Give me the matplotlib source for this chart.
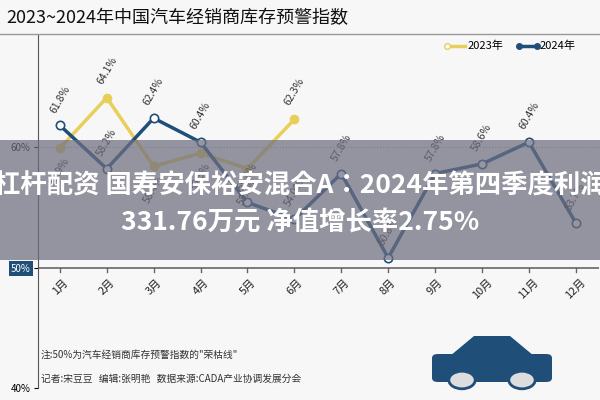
import matplotlib
matplotlib.use("Agg")
import matplotlib.pyplot as plt
import matplotlib.patches as patches
from matplotlib import font_manager

names = {f.name for f in font_manager.fontManager.ttflist}
cjk = [n for n in ["Noto Sans CJK SC", "Noto Sans CJK JP", "Noto Sans CJK TC"] if n in names]
plt.rcParams["font.family"] = "sans-serif"
plt.rcParams["font.sans-serif"] = cjk + ["DejaVu Sans"]

# 数据
months = ["1月", "2月", "3月", "4月", "5月", "6月", "7月", "8月", "9月", "10月", "11月", "12月"]
idx_2023 = [59.9, 64.1, 58.4, 59.5, 58.2, 62.3]
idx_2024 = [61.8, 58.2, 62.4, 60.4, 55.4, 54.0, 57.8, 50.8, 57.8, 58.6, 60.4, 53.7]
y_ticks = [40, 50, 60]
y_tick_labels = ["40%", "50%", "60%"]

YELLOW = "#e8cf5a"
BLUE = "#1f4e79"

fig = plt.figure(figsize=(6, 4), dpi=100)
fig.patch.set_facecolor("#f7f7f7")
ax = fig.add_axes([0.063, 0.03, 0.935, 0.8825])
ax.set_facecolor("#f7f7f7")

x23 = list(range(1, len(idx_2023) + 1))
x24 = list(range(1, len(idx_2024) + 1))
ax.plot(x23, idx_2023, color=YELLOW, lw=2.5, marker="o", ms=6,
        mfc=YELLOW, mec=YELLOW, zorder=3)
ax.plot(x24, idx_2024, color=BLUE, lw=2.5, marker="o", ms=6,
        mfc="white", mec=BLUE, mew=1.2, zorder=4)

for x, v in zip(x23, idx_2023):
    off = 1.0 if v >= 60 else -3.2
    ax.text(x, v + off, f"{v}%", rotation=60, ha="center", va="bottom",
            fontsize=7.5, color="#333333", zorder=5)
for x, v in zip(x24, idx_2024):
    ax.text(x, v + 0.9, f"{v}%", rotation=60, ha="center", va="bottom",
            fontsize=7.5, color="#333333", zorder=5)

ax.set_xlim(0.53, 12.49)
ax.set_ylim(40, 69.3)
ax.set_xticks([])
ax.set_yticks(y_ticks)
ax.set_yticklabels(y_tick_labels, fontsize=7)
ax.tick_params(axis="y", length=3, pad=2)
for s in ["top", "right", "bottom"]:
    ax.spines[s].set_visible(False)
ax.spines["left"].set_color("#555555")

# 50% 荣枯线 & 网格
ax.axhline(50, color="#666666", lw=1.2, zorder=2)
ax.axhline(60, color="#aaaaaa", lw=0.8, ls=":", zorder=1)
ax.axhline(40, color="#aaaaaa", lw=0.8, ls=":", zorder=1)
for x, m in zip(x24, months):
    ax.plot([x, x], [50, 49.6], color="#666666", lw=1, zorder=2)
    ax.text(x, 49.2, m, rotation=45, ha="center", va="top", fontsize=8, color="#222222")
ax.get_yticklabels()[1].set_bbox(dict(facecolor=BLUE, edgecolor="none", pad=1.5))
ax.get_yticklabels()[1].set_color("white")

# 标题
fig.text(0.01, 0.955, "2023~2024年中国汽车经销商库存预警指数", fontsize=13, va="center", color="#111111")
fig.add_artist(plt.Line2D([0, 1], [0.915, 0.915], color="#999999", lw=1))

# 图例
fig.add_artist(plt.Line2D([0.745, 0.775], [0.885, 0.885], color=YELLOW, lw=2.5,
                          marker="o", ms=4, markevery=[0], mfc="white"))
fig.text(0.78, 0.885, "2023年", fontsize=8, va="center")
fig.add_artist(plt.Line2D([0.865, 0.895], [0.885, 0.885], color=BLUE, lw=2.5,
                          marker="o", ms=4, markevery=[0, 1]))
fig.text(0.90, 0.885, "2024年", fontsize=8, va="center")

# 注释
fig.text(0.068, 0.105, "注:50%为汽车经销商库存预警指数的\"荣枯线\"", fontsize=7, color="#333333")
fig.text(0.068, 0.045, "记者:宋豆豆   编辑:张明艳   数据来源:CADA产业协调发展分会", fontsize=7, color="#333333")

# 汽车图形
car = patches.FancyBboxPatch((0.73, 0.055), 0.18, 0.05, boxstyle="round,pad=0.01",
                             transform=fig.transFigure, facecolor=BLUE, edgecolor="none")
roof = patches.Polygon([(0.75, 0.11), (0.79, 0.16), (0.85, 0.16), (0.89, 0.11)],
                       closed=True, transform=fig.transFigure, facecolor=BLUE, edgecolor="none")
fig.add_artist(roof)
fig.add_artist(car)
for cx in (0.77, 0.87):
    fig.add_artist(patches.Circle((cx, 0.05), 0.022, transform=fig.transFigure,
                                  facecolor="#dddddd", edgecolor=BLUE, lw=2))

# 覆盖横幅
fig.add_artist(patches.Rectangle((0, 0.35), 1, 0.30, transform=fig.transFigure,
                                 facecolor="#6e6e80", alpha=0.72, edgecolor="none", zorder=10))
fig.text(0.5, 0.535, "杠杆配资 国寿安保裕安混合A：2024年第四季度利润", fontsize=19,
         color="white", ha="center", va="center", weight="bold", zorder=11)
fig.text(0.5, 0.445, "331.76万元 净值增长率2.75%", fontsize=19,
         color="white", ha="center", va="center", weight="bold", zorder=11)

fig.savefig("out.png", dpi=100, facecolor=fig.get_facecolor())
